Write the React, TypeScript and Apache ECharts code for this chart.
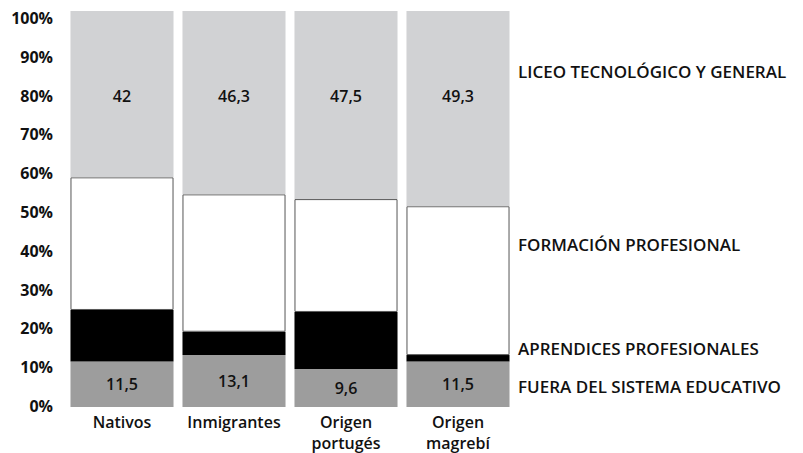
import React, { useEffect, useRef } from "react";
import * as echarts from "echarts";

const categories = ["Nativos", "Inmigrantes", "Origen\nportugés", "Origen\nmagrebí"];
const fuera = [11.5, 13.1, 9.6, 11.5];
const aprendices = [13.0, 5.9, 14.4, 1.6];
const formacion = [33.5, 34.7, 28.5, 37.6];
const liceo = [42, 46.3, 47.5, 49.3];
const seriesNames = [
  "FUERA DEL SISTEMA EDUCATIVO",
  "APRENDICES PROFESIONALES",
  "FORMACIÓN PROFESIONAL",
  "LICEO TECNOLÓGICO Y GENERAL",
];
const yTicks = [0, 10, 20, 30, 40, 50, 60, 70, 80, 90, 100];

const FONT = "'Open Sans', 'Noto Sans', sans-serif";
const fmt = (v: number) => String(v).replace(".", ",");

export default function App() {
  const ref = useRef<HTMLDivElement>(null);
  useEffect(() => {
    if (!ref.current) return;
    const chart = echarts.init(ref.current, undefined, { renderer: "svg" });
    const labelStyle = {
      fontFamily: FONT,
      fontSize: 16,
      fontWeight: 600 as any,
      color: "#111",
    };
    const sideFont = `600 17px ${FONT}`;
    chart.setOption({
      animation: false,
      backgroundColor: "#fff",
      textStyle: { fontFamily: FONT },
      grid: [
        { left: 66, right: 289, top: 11, bottom: 45, containLabel: false },
        { left: 66, right: 289, top: 18, bottom: 47, containLabel: false },
      ],
      xAxis: [
        {
          type: "category",
          data: categories,
          axisLine: { show: false },
          axisTick: { show: false },
          axisLabel: { ...labelStyle, margin: 4, lineHeight: 21, interval: 0 },
        },
        { type: "category", gridIndex: 1, data: categories, show: false },
      ],
      yAxis: [
        {
          type: "value",
          min: 0,
          max: 100,
          interval: 10,
          splitLine: { show: false },
          axisLine: { show: false },
          axisTick: { show: false },
          axisLabel: { show: false },
        },
        {
          type: "value",
          gridIndex: 1,
          min: 0,
          max: 100,
          interval: 10,
          splitLine: { show: false },
          axisLine: { show: false },
          axisTick: { show: false },
          axisLabel: {
            ...labelStyle,
            fontWeight: 700,
            margin: 13,
            formatter: (v: number) => (yTicks.includes(v) ? v + "%" : ""),
          },
        },
      ],
      series: [
        {
          name: seriesNames[0],
          type: "bar",
          stack: "t",
          barCategoryGap: "8%",
          data: fuera,
          itemStyle: { color: "#9d9d9d" },
          label: {
            show: true,
            position: "inside",
            ...labelStyle,
            formatter: (p: any) => fmt(p.value),
          },
        },
        {
          name: seriesNames[1],
          type: "bar",
          stack: "t",
          data: aprendices,
          itemStyle: { color: "#000" },
        },
        {
          name: seriesNames[2],
          type: "bar",
          stack: "t",
          data: formacion,
          itemStyle: { color: "#fff", borderColor: "#555", borderWidth: 1 },
        },
        {
          name: seriesNames[3],
          type: "bar",
          stack: "t",
          data: liceo,
          itemStyle: { color: "#d1d2d4" },
          label: {
            show: true,
            position: ["50%", 85],
            align: "center",
            verticalAlign: "middle",
            ...labelStyle,
            formatter: (p: any) => fmt(p.value),
          },
        },
      ],
      graphic: [
        { type: "text", left: 518, top: 63, style: { text: seriesNames[3], font: sideFont, fill: "#111" } },
        { type: "text", left: 518, top: 236, style: { text: seriesNames[2], font: sideFont, fill: "#111" } },
        { type: "text", left: 518, top: 340, style: { text: seriesNames[1], font: sideFont, fill: "#111" } },
        { type: "text", left: 518, top: 378, style: { text: seriesNames[0], font: sideFont, fill: "#111" } },
      ],
    });
    return () => chart.dispose();
  }, []);
  return <div ref={ref} style={{ width: 803, height: 453, position: "absolute", left: 0, top: 0 }} />;
}
